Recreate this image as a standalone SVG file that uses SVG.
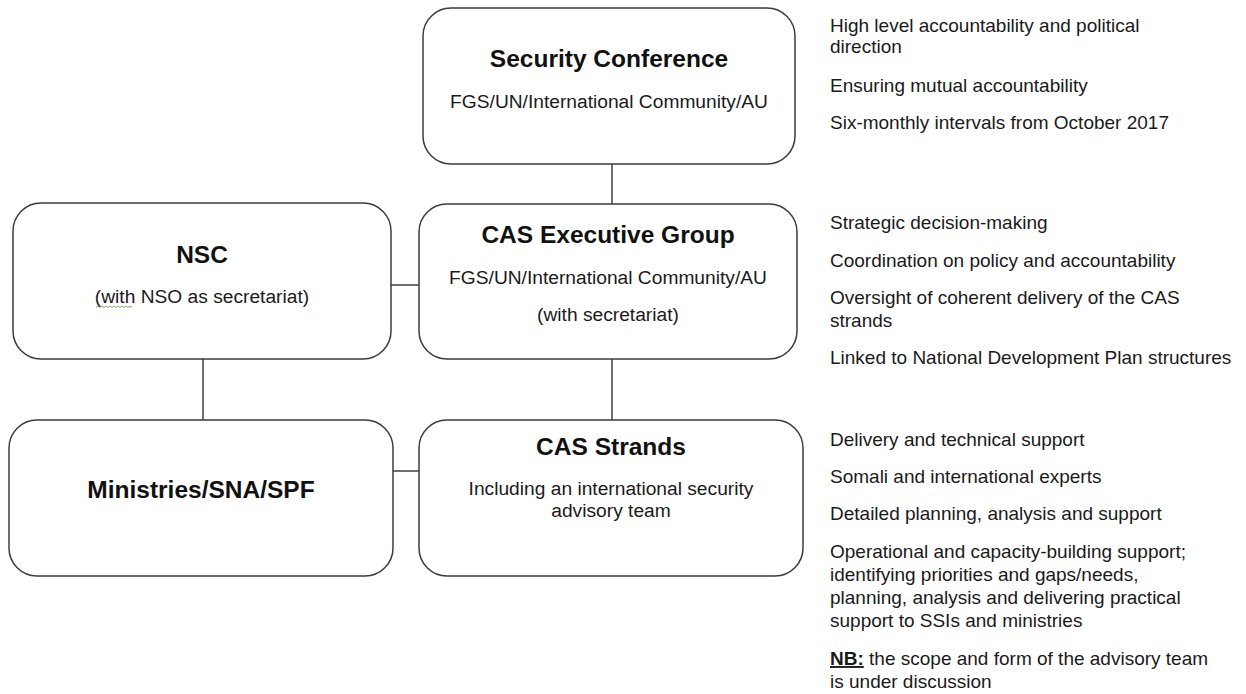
<svg xmlns="http://www.w3.org/2000/svg" width="1246" height="694" viewBox="0 0 1246 694">
<style>
.box{fill:#fff;stroke:#3c3c3c;stroke-width:1.5}
.t{font-family:"Liberation Sans",Arial,sans-serif;font-weight:bold;font-size:24.5px;fill:#111;text-anchor:middle}
.s{font-family:"Liberation Sans",Arial,sans-serif;font-size:19.2px;fill:#1a1a1a;text-anchor:middle}
.r{font-family:"Liberation Sans",Arial,sans-serif;font-size:19px;fill:#1a1a1a}
.c{stroke:#333;stroke-width:1.4;fill:none}
</style>
<rect width="1246" height="694" fill="#fff"/>
<g id="connectors">
<line class="c" x1="612" y1="164" x2="612" y2="204"/>
<line class="c" x1="391" y1="285" x2="419" y2="285"/>
<line class="c" x1="203" y1="359" x2="203" y2="420"/>
<line class="c" x1="612" y1="359" x2="612" y2="420"/>
<line class="c" x1="393" y1="471" x2="419" y2="471"/>
</g>
<g id="security-conference">
<rect class="box" x="423" y="8" width="372" height="156" rx="28"/>
<text class="t" x="609" y="67">Security Conference</text>
<text class="s" x="609" y="108">FGS/UN/International Community/AU</text>
</g>
<g id="nsc">
<rect class="box" x="13" y="203" width="378" height="156" rx="28"/>
<text class="t" x="202" y="263">NSC</text>
<text class="s" x="202" y="303">(with NSO as secretariat)</text>
<path d="M96 307.5 l2 -1.5 l2 1.5 l2 -1.5 l2 1.5 l2 -1.5 l2 1.5 l2 -1.5 l2 1.5 l2 -1.5 l2 1.5 l2 -1.5 l2 1.5 l2 -1.5 l2 1.5 l2 -1.5 l2 1.5 l2 -1.5 l2 1.5" fill="none" stroke="#7aa05a" stroke-width="0.9"/>
</g>
<g id="cas-executive-group">
<rect class="box" x="419" y="204" width="378" height="155" rx="28"/>
<text class="t" x="608" y="243">CAS Executive Group</text>
<text class="s" x="608" y="284">FGS/UN/International Community/AU</text>
<text class="s" x="608" y="321">(with secretariat)</text>
</g>
<g id="ministries">
<rect class="box" x="9" y="420" width="384" height="156" rx="28"/>
<text class="t" x="201" y="498">Ministries/SNA/SPF</text>
</g>
<g id="cas-strands">
<rect class="box" x="419" y="420" width="384" height="156" rx="28"/>
<text class="t" x="611" y="455">CAS Strands</text>
<text class="s" x="611" y="495">Including an international security</text>
<text class="s" x="611" y="517">advisory team</text>
</g>
<g id="notes-security-conference">
<text class="r" x="830" y="32">High level accountability and political</text>
<text class="r" x="830" y="53">direction</text>
<text class="r" x="830" y="92">Ensuring mutual accountability</text>
<text class="r" x="830" y="129">Six-monthly intervals from October 2017</text>
</g>
<g id="notes-executive-group">
<text class="r" x="830" y="229">Strategic decision-making</text>
<text class="r" x="830" y="267">Coordination on policy and accountability</text>
<text class="r" x="830" y="304">Oversight of coherent delivery of the CAS</text>
<text class="r" x="830" y="327">strands</text>
<text class="r" x="830" y="364">Linked to National Development Plan structures</text>
</g>
<g id="notes-strands">
<text class="r" x="830" y="446">Delivery and technical support</text>
<text class="r" x="830" y="483">Somali and international experts</text>
<text class="r" x="830" y="520">Detailed planning, analysis and support</text>
<text class="r" x="830" y="558">Operational and capacity-building support;</text>
<text class="r" x="830" y="581">identifying priorities and gaps/needs,</text>
<text class="r" x="830" y="604">planning, analysis and delivering practical</text>
<text class="r" x="830" y="627">support to SSIs and ministries</text>
<text class="r" x="830" y="665"><tspan font-weight="bold" text-decoration="underline">NB:</tspan> the scope and form of the advisory team</text>
<text class="r" x="830" y="688">is under discussion</text>
</g>
</svg>
